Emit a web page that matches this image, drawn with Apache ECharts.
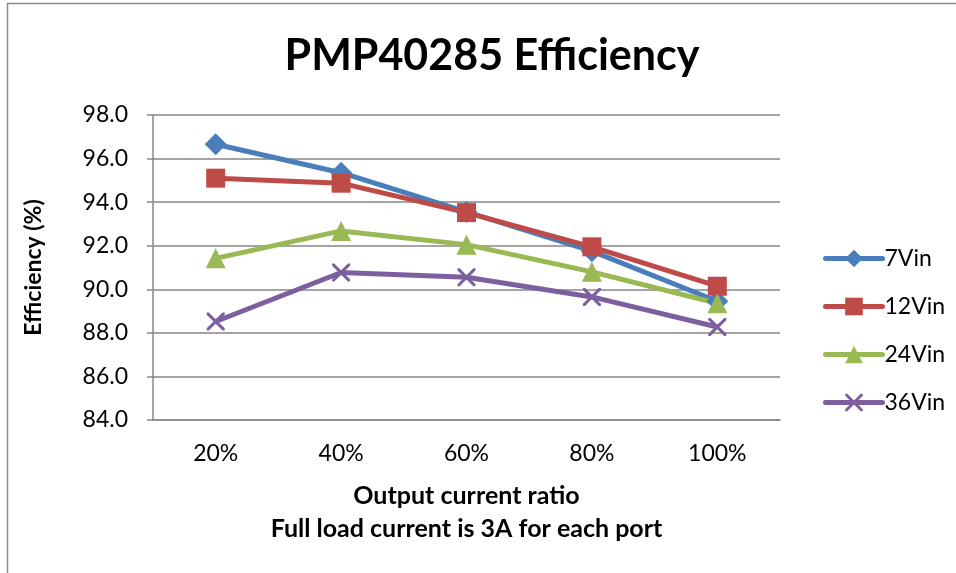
<!DOCTYPE html>
<html>
<head>
<meta charset="utf-8">
<script src="https://cdn.jsdelivr.net/npm/echarts@6/dist/echarts.min.js"></script>
<style>
  html, body { margin: 0; padding: 0; background: #fff; }
  #chart { width: 956px; height: 573px; }
</style>
</head>
<body>
<div id="chart"></div>
<script>
const categories = ['20%', '40%', '60%', '80%', '100%']
const vin7 = [96.66, 95.35, 93.55, 91.75, 89.45]
const vin12 = [95.1, 94.87, 93.52, 91.95, 90.14]
const vin24 = [91.42, 92.68, 92.05, 90.8, 89.36]
const vin36 = [88.52, 90.77, 90.55, 89.65, 88.27]

const fontFamily = 'Lato, "Open Sans", sans-serif'
// thin X made as a filled outline so it shows like the excel cross marker
const crossPath = 'path://M0,0L1.2,0L5,3.8L8.8,0L10,0L10,1.2L6.2,5L10,8.8L10,10L8.8,10L5,6.2L1.2,10L0,10L0,8.8L3.8,5L0,1.2Z'

function makeSeries(name, data, color, symbol, size) {
  return {
    name: name,
    type: 'line',
    data: data,
    symbol: symbol,
    symbolSize: size,
    showAllSymbol: true,
    lineStyle: { color: color, width: 5 },
    itemStyle: { color: color },
    emphasis: { disabled: true },
    animation: false
  }
}

const chart = echarts.init(document.getElementById('chart'))

chart.setOption({
  textStyle: { fontFamily: fontFamily },
  graphic: [{
    type: 'rect',
    shape: { x: 7.5, y: 3.5, width: 1000, height: 1000 },
    style: { fill: 'none', stroke: '#8c8c8c', lineWidth: 1.5 },
    silent: true
  }],
  title: {
    text: 'PMP40285 Efficiency',
    left: 487,
    top: 30,
    textAlign: 'center',
    textStyle: { fontSize: 43, fontWeight: 'bold', color: '#000', fontFamily: fontFamily }
  },
  legend: {
    orient: 'vertical',
    left: 818,
    top: 242,
    itemWidth: 57,
    itemHeight: 22,
    itemGap: 25,
    lineStyle: { width: 5, cap: 'round' },
    textStyle: { fontSize: 23, color: '#000', padding: [0, 0, 0, -3] },
    data: ['7Vin', '12Vin', '24Vin', '36Vin']
  },
  grid: {
    left: 153,
    right: 176,
    top: 115,
    bottom: 153,
    containLabel: false
  },
  xAxis: {
    type: 'category',
    data: categories,
    boundaryGap: true,
    name: 'Output current ratio\nFull load current is 3A for each port',
    nameLocation: 'middle',
    nameGap: 59,
    nameTextStyle: { fontSize: 25, fontWeight: 'bold', color: '#000', lineHeight: 33 },
    axisLine: { lineStyle: { color: '#868686', width: 1.5 } },
    axisTick: { show: false },
    axisLabel: { fontSize: 23, color: '#000', margin: 22 },
    splitLine: { show: false }
  },
  yAxis: {
    type: 'value',
    min: 84,
    max: 98,
    interval: 2,
    name: 'Efficiency (%)',
    nameLocation: 'middle',
    nameGap: 108,
    nameRotate: 90,
    nameTextStyle: { fontSize: 23, fontWeight: 'bold', color: '#000' },
    axisLine: { show: true, lineStyle: { color: '#868686', width: 1.5 } },
    axisTick: { show: true, inside: false, length: 6, lineStyle: { color: '#868686', width: 1.5 } },
    axisLabel: { fontSize: 23, color: '#000', margin: 25, formatter: v => v.toFixed(1) },
    splitLine: { show: true, lineStyle: { color: '#868686', width: 1.5 } }
  },
  series: [
    makeSeries('7Vin', vin7, '#4A7EBB', 'diamond', 22),
    makeSeries('12Vin', vin12, '#BE4B48', 'rect', 19),
    makeSeries('24Vin', vin24, '#98B954', 'triangle', 20),
    makeSeries('36Vin', vin36, '#7D5FA0', crossPath, 18)
  ]
})
</script>
</body>
</html>
